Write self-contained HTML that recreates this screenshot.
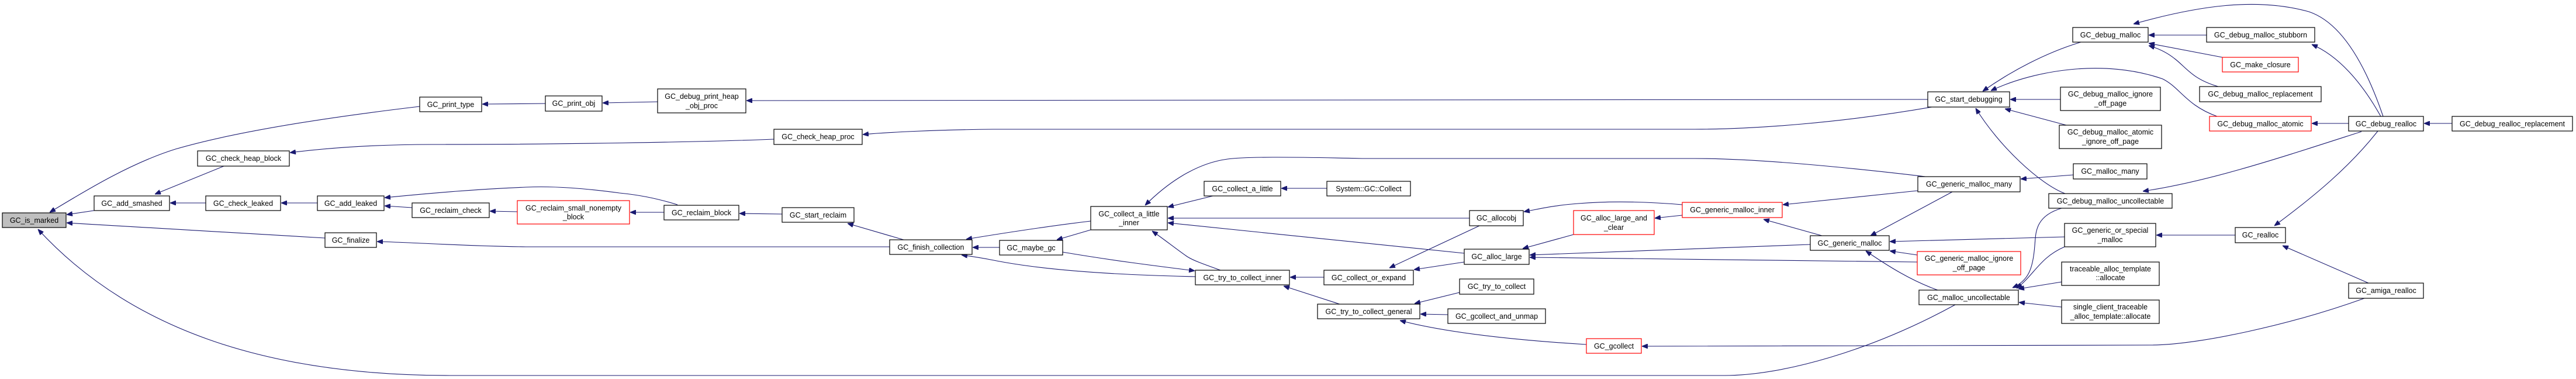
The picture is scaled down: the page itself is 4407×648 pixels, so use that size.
<!DOCTYPE html>
<html><head><meta charset="utf-8"><style>
html,body{margin:0;padding:0;background:#fff;}
svg{display:block;}
text{font-family:"Liberation Sans",Arial,sans-serif;font-size:12.5px;fill:#000;text-anchor:middle;}
.n{fill:#fff;stroke:#000;stroke-width:1.2;}
.r{fill:#fff;stroke:#f00;stroke-width:1.2;}
.e{fill:none;stroke:#191970;stroke-width:1.1;}
</style></head><body>
<svg width="4407" height="648" viewBox="0 0 4407 648" xmlns="http://www.w3.org/2000/svg">
<defs><marker id="a" viewBox="0 0 10 8" refX="10" refY="4" markerWidth="10" markerHeight="8" markerUnits="userSpaceOnUse" orient="auto"><path d="M0,0 L10,4 L0,8 z" fill="#191970" stroke="#191970"/></marker></defs>
<g class="edges">
<path class="e" marker-end="url(#a)" d="M718,182 C600,196 420,220 300,255 C220,280 140,330 85,363"/>
<path class="e" marker-end="url(#a)" d="M161,360 L114,367"/>
<path class="e" marker-end="url(#a)" d="M556,407 L114,381"/>
<path class="e" marker-end="url(#a)" d="M3345,521 C3200,600 3050,642 2950,642 L770,642 C450,642 220,560 65,392"/>
<path class="e" marker-end="url(#a)" d="M383,284 L265,332"/>
<path class="e" marker-end="url(#a)" d="M352,347 L291,347"/>
<path class="e" marker-end="url(#a)" d="M543,347 L481,347"/>
<path class="e" marker-end="url(#a)" d="M1324,238 C1200,243 950,247 740,247 C640,247 560,253 496,261"/>
<path class="e" marker-end="url(#a)" d="M705,355 L658,352"/>
<path class="e" marker-end="url(#a)" d="M1159,350 C1120,338 1090,333 1060,330 C1000,322 950,318 900,320 C820,323 740,330 658,338"/>
<path class="e" marker-end="url(#a)" d="M885,362 L838,361"/>
<path class="e" marker-end="url(#a)" d="M1136,363 L1078,363"/>
<path class="e" marker-end="url(#a)" d="M1338,366 L1265,365"/>
<path class="e" marker-end="url(#a)" d="M1546,410 L1450,382"/>
<path class="e" marker-end="url(#a)" d="M1522,422 L900,422 C800,421 720,415 645,413"/>
<path class="e" marker-end="url(#a)" d="M933,177 L825,178"/>
<path class="e" marker-end="url(#a)" d="M1125,174 L1031,176"/>
<path class="e" marker-end="url(#a)" d="M3298,170 L1277,172"/>
<path class="e" marker-end="url(#a)" d="M3305,183 C3150,210 3000,221 2900,221 L1700,221 C1600,222 1520,226 1476,230"/>
<path class="e" marker-end="url(#a)" d="M1866,378 C1790,387 1720,398 1653,409"/>
<path class="e" marker-end="url(#a)" d="M1710,423 L1664,423"/>
<path class="e" marker-end="url(#a)" d="M2045,473 C1950,471 1800,465 1700,445 C1680,441 1660,438 1645,436"/>
<path class="e" marker-end="url(#a)" d="M1866,393 L1808,410"/>
<path class="e" marker-end="url(#a)" d="M1818,431 C1900,445 1980,455 2044,463"/>
<path class="e" marker-end="url(#a)" d="M2088,462 C2060,452 2040,445 2030,438 C2010,424 1990,408 1971,395"/>
<path class="e" marker-end="url(#a)" d="M2075,335 L1998,354"/>
<path class="e" marker-end="url(#a)" d="M3294,302 C3150,285 3000,271 2900,271 L2330,271 C2200,268 2130,268 2100,272 C2040,280 1990,320 1959,351"/>
<path class="e" marker-end="url(#a)" d="M2514,373 L1998,373"/>
<path class="e" marker-end="url(#a)" d="M2505,433 L1998,381"/>
<path class="e" marker-end="url(#a)" d="M2270,322 L2192,322"/>
<path class="e" marker-end="url(#a)" d="M2265,474 L2207,474"/>
<path class="e" marker-end="url(#a)" d="M2292,520 L2196,489"/>
<path class="e" marker-end="url(#a)" d="M2531,386 L2377,458"/>
<path class="e" marker-end="url(#a)" d="M2505,448 L2419,461"/>
<path class="e" marker-end="url(#a)" d="M2878,350 C2820,345 2760,343 2700,348 C2660,351 2640,356 2607,362"/>
<path class="e" marker-end="url(#a)" d="M2878,368 L2831,373"/>
<path class="e" marker-end="url(#a)" d="M2692,401 L2605,425"/>
<path class="e" marker-end="url(#a)" d="M3097,418 L2617,436"/>
<path class="e" marker-end="url(#a)" d="M3280,448 C3100,446 2900,444 2617,440"/>
<path class="e" marker-end="url(#a)" d="M2497,500 L2420,519"/>
<path class="e" marker-end="url(#a)" d="M2477,538 L2430,537"/>
<path class="e" marker-end="url(#a)" d="M2714,589 C2600,582 2480,570 2395,548"/>
<path class="e" marker-end="url(#a)" d="M4045,510 C3920,555 3760,590 3680,590 L2809,592"/>
<path class="e" marker-end="url(#a)" d="M3281,326 L3050,350"/>
<path class="e" marker-end="url(#a)" d="M3117,403 L3017,375"/>
<path class="e" marker-end="url(#a)" d="M3340,328 L3200,403"/>
<path class="e" marker-end="url(#a)" d="M3532,405 L3233,413"/>
<path class="e" marker-end="url(#a)" d="M3280,436 L3233,429"/>
<path class="e" marker-end="url(#a)" d="M3315,496 C3270,480 3230,455 3192,429"/>
<path class="e" marker-end="url(#a)" d="M3547,299 L3457,306"/>
<path class="e" marker-end="url(#a)" d="M3560,72 C3500,90 3440,122 3392,156"/>
<path class="e" marker-end="url(#a)" d="M3793,199 C3740,180 3730,150 3700,135 C3600,100 3480,120 3406,155"/>
<path class="e" marker-end="url(#a)" d="M3525,170 L3439,170"/>
<path class="e" marker-end="url(#a)" d="M3535,214 L3430,186"/>
<path class="e" marker-end="url(#a)" d="M3533,331 C3490,315 3420,250 3380,185"/>
<path class="e" marker-end="url(#a)" d="M3775,60 L3676,60"/>
<path class="e" marker-end="url(#a)" d="M3802,98 L3676,74"/>
<path class="e" marker-end="url(#a)" d="M3795,148 C3750,135 3740,115 3720,100 C3705,88 3690,82 3676,78"/>
<path class="e" marker-end="url(#a)" d="M4077,199 C4050,120 4010,40 3950,20 C3860,-5 3760,10 3650,41"/>
<path class="e" marker-end="url(#a)" d="M4073,199 C4040,140 4000,95 3955,76"/>
<path class="e" marker-end="url(#a)" d="M4018,211 L3955,211"/>
<path class="e" marker-end="url(#a)" d="M4195,211 L4147,211"/>
<path class="e" marker-end="url(#a)" d="M4040,225 C3900,270 3780,310 3666,327"/>
<path class="e" marker-end="url(#a)" d="M4068,224 C4020,285 3960,335 3891,386"/>
<path class="e" marker-end="url(#a)" d="M3824,402 L3689,402"/>
<path class="e" marker-end="url(#a)" d="M4052,484 L3905,420"/>
<path class="e" marker-end="url(#a)" d="M3527,356 C3480,370 3483,400 3481,420 C3478,460 3470,480 3443,492"/>
<path class="e" marker-end="url(#a)" d="M3532,422 C3490,440 3480,470 3450,493"/>
<path class="e" marker-end="url(#a)" d="M3527,482 L3453,494"/>
<path class="e" marker-end="url(#a)" d="M3527,525 L3454,517"/>
</g>
<g class="nodes">
<rect x="4" y="364" width="109" height="25" fill="#bfbfbf" stroke="#000" stroke-width="1.2"/><text x="58.5" y="381">GC_is_marked</text>
<rect class="n" x="161" y="335" width="129" height="25"/><text x="225.5" y="352">GC_add_smashed</text>
<rect class="n" x="338" y="258" width="157" height="26"/><text x="416.5" y="275">GC_check_heap_block</text>
<rect class="n" x="352" y="335" width="128" height="25"/><text x="416" y="352">GC_check_leaked</text>
<rect class="n" x="543" y="335" width="114" height="25"/><text x="600" y="352">GC_add_leaked</text>
<rect class="n" x="556" y="398" width="88" height="25"/><text x="600" y="415">GC_finalize</text>
<rect class="n" x="718" y="166" width="106" height="25"/><text x="771" y="183">GC_print_type</text>
<rect class="n" x="705" y="347" width="132" height="25"/><text x="771" y="364">GC_reclaim_check</text>
<rect class="n" x="933" y="164" width="97" height="26"/><text x="981.5" y="181">GC_print_obj</text>
<rect class="n" x="1125" y="152" width="151" height="41"/><text x="1200.5" y="169">GC_debug_print_heap</text><text x="1200.5" y="185">_obj_proc</text>
<rect class="n" x="1324" y="221" width="151" height="26"/><text x="1399.5" y="238">GC_check_heap_proc</text>
<rect class="r" x="885" y="343" width="192" height="40"/><text x="981" y="360">GC_reclaim_small_nonempty</text><text x="981" y="375">_block</text>
<rect class="n" x="1136" y="351" width="128" height="25"/><text x="1200" y="368">GC_reclaim_block</text>
<rect class="n" x="1338" y="355" width="123" height="25"/><text x="1399.5" y="372">GC_start_reclaim</text>
<rect class="n" x="1522" y="410" width="141" height="25"/><text x="1592.5" y="427">GC_finish_collection</text>
<rect class="n" x="1710" y="411" width="108" height="25"/><text x="1764" y="428">GC_maybe_gc</text>
<rect class="n" x="1866" y="353" width="131" height="40"/><text x="1931.5" y="370">GC_collect_a_little</text><text x="1931.5" y="385">_inner</text>
<rect class="n" x="2060" y="310" width="131" height="25"/><text x="2125.5" y="327">GC_collect_a_little</text>
<rect class="n" x="2045" y="462" width="161" height="25"/><text x="2125.5" y="479">GC_try_to_collect_inner</text>
<rect class="n" x="2270" y="310" width="143" height="25"/><text x="2341.5" y="327">System::GC::Collect</text>
<rect class="n" x="2514" y="360" width="92" height="26"/><text x="2560" y="377">GC_allocobj</text>
<rect class="r" x="2692" y="360" width="138" height="41"/><text x="2761" y="377">GC_alloc_large_and</text><text x="2761" y="393">_clear</text>
<rect class="n" x="2505" y="426" width="111" height="26"/><text x="2560.5" y="443">GC_alloc_large</text>
<rect class="n" x="2265" y="462" width="153" height="25"/><text x="2341.5" y="479">GC_collect_or_expand</text>
<rect class="n" x="2497" y="477" width="127" height="26"/><text x="2560.5" y="494">GC_try_to_collect</text>
<rect class="n" x="2254" y="520" width="175" height="25"/><text x="2341.5" y="537">GC_try_to_collect_general</text>
<rect class="n" x="2477" y="528" width="167" height="25"/><text x="2560.5" y="545">GC_gcollect_and_unmap</text>
<rect class="r" x="2714" y="579" width="94" height="25"/><text x="2761" y="596">GC_gcollect</text>
<rect class="r" x="2878" y="346" width="171" height="26"/><text x="2963.5" y="363">GC_generic_malloc_inner</text>
<rect class="n" x="3298" y="157" width="140" height="26"/><text x="3368" y="174">GC_start_debugging</text>
<rect class="n" x="3546" y="47" width="129" height="25"/><text x="3610.5" y="64">GC_debug_malloc</text>
<rect class="n" x="3525" y="149" width="171" height="40"/><text x="3610.5" y="165">GC_debug_malloc_ignore</text><text x="3610.5" y="181">_off_page</text>
<rect class="n" x="3523" y="214" width="175" height="40"/><text x="3610.5" y="230">GC_debug_malloc_atomic</text><text x="3610.5" y="246">_ignore_off_page</text>
<rect class="n" x="3547" y="280" width="126" height="26"/><text x="3610" y="297">GC_malloc_many</text>
<rect class="n" x="3281" y="302" width="175" height="26"/><text x="3368.5" y="319">GC_generic_malloc_many</text>
<rect class="n" x="3505" y="331" width="211" height="25"/><text x="3610.5" y="348">GC_debug_malloc_uncollectable</text>
<rect class="n" x="3097" y="403" width="135" height="25"/><text x="3164.5" y="420">GC_generic_malloc</text>
<rect class="r" x="3280" y="430" width="177" height="40"/><text x="3368.5" y="446">GC_generic_malloc_ignore</text><text x="3368.5" y="462">_off_page</text>
<rect class="n" x="3532" y="382" width="156" height="40"/><text x="3610" y="398">GC_generic_or_special</text><text x="3610" y="414">_malloc</text>
<rect class="n" x="3527" y="448" width="167" height="40"/><text x="3610.5" y="464">traceable_alloc_template</text><text x="3610.5" y="479">::allocate</text>
<rect class="n" x="3527" y="513" width="167" height="40"/><text x="3610.5" y="529">single_client_traceable</text><text x="3610.5" y="545">_alloc_template::allocate</text>
<rect class="n" x="3283" y="496" width="170" height="25"/><text x="3368" y="513">GC_malloc_uncollectable</text>
<rect class="n" x="3775" y="47" width="185" height="25"/><text x="3867.5" y="64">GC_debug_malloc_stubborn</text>
<rect class="r" x="3802" y="98" width="130" height="25"/><text x="3867" y="115">GC_make_closure</text>
<rect class="n" x="3763" y="148" width="208" height="26"/><text x="3867" y="165">GC_debug_malloc_replacement</text>
<rect class="r" x="3780" y="199" width="174" height="25"/><text x="3867" y="216">GC_debug_malloc_atomic</text>
<rect class="n" x="4018" y="199" width="128" height="25"/><text x="4082" y="216">GC_debug_realloc</text>
<rect class="n" x="4195" y="199" width="206" height="25"/><text x="4298" y="216">GC_debug_realloc_replacement</text>
<rect class="n" x="3824" y="389" width="86" height="26"/><text x="3867" y="406">GC_realloc</text>
<rect class="n" x="4018" y="484" width="128" height="26"/><text x="4082" y="501">GC_amiga_realloc</text>
</g>
</svg>
</body></html>
